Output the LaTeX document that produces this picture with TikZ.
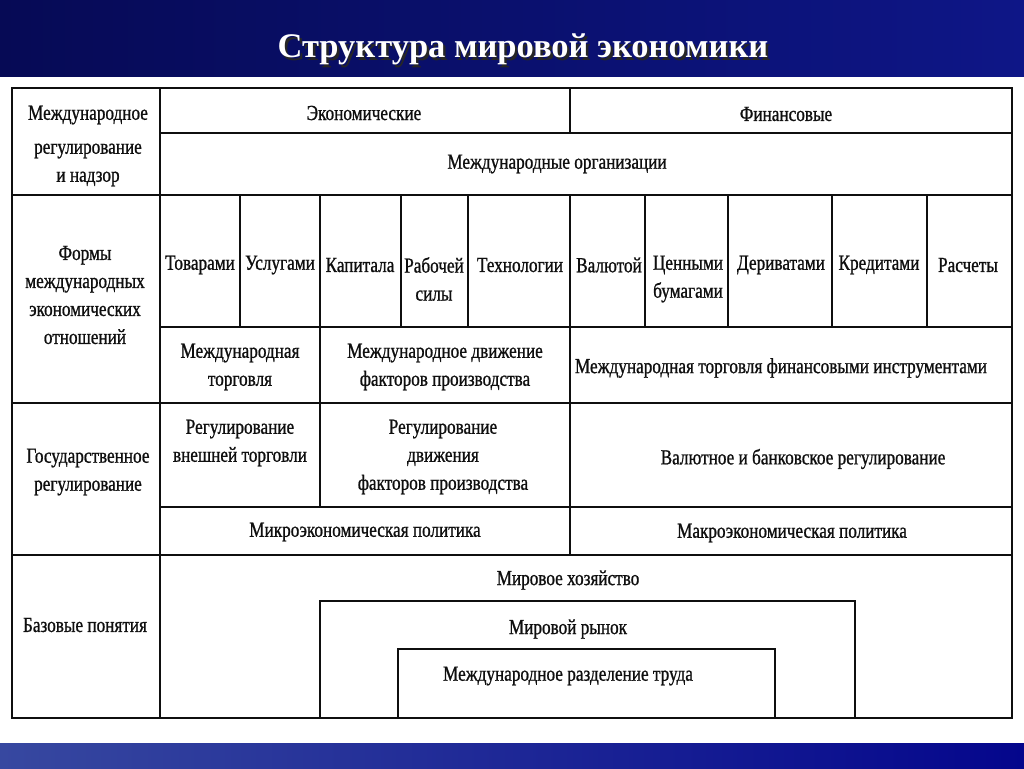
\documentclass[tikz,border=0pt]{standalone}
\usepackage{fontspec}
\setmainfont{Liberation Serif}
\newfontfamily\tblfont[FakeStretch=0.8,FakeBold=0.9]{Liberation Serif}
\definecolor{navyA}{RGB}{6,10,85}
\definecolor{navyB}{RGB}{14,22,135}
\definecolor{navyC}{RGB}{55,72,160}
\definecolor{navyD}{RGB}{4,6,140}
\definecolor{ink}{RGB}{15,15,15}
\newcommand{\shadowtext}[1]{\makebox[0pt][l]{\raisebox{-2.5pt}{\hspace{2.5pt}\textcolor{black!85}{#1}}}\textcolor{white}{#1}}
\tikzset{
  cell/.style={font=\tblfont\fontsize{21.5}{28}\selectfont, text=ink, align=center, inner sep=0pt},
  grid/.style={draw=ink, line width=1.4pt},
  thin/.style={draw=ink, line width=1.1pt},
}
\begin{document}
\begin{tikzpicture}[x=1pt,y=-1pt]
\useasboundingbox (0,0) rectangle (1024,768);
\fill[white] (0,0) rectangle (1024,768);
\shade[left color=navyA, right color=navyB] (0,0) rectangle (1024,76);
\shade[left color=navyC, right color=navyD] (0,743) rectangle (1024,768);
% title
\node[font=\bfseries\fontsize{34.5}{40}\selectfont, inner sep=0pt] (title) at (523,51) {\shadowtext{Структура мировой экономики}};
% outer frame
\draw[grid] (12,88) rectangle (1012,718);
% row separators full width
\draw[grid] (12,195) -- (1012,195);
\draw[grid] (12,403) -- (1012,403);
\draw[grid] (12,555) -- (1012,555);
% left column
\draw[grid] (160,88) -- (160,718);
% row 1
\draw[grid] (160,133) -- (1012,133);
\draw[thin] (570,88) -- (570,133);
% forms row
\draw[grid] (160,327) -- (1012,327);
\foreach \xx in {240,401,468,645,728,832,927} \draw[thin] (\xx,195) -- (\xx,327);
\draw[thin] (320,195) -- (320,403);
\draw[thin] (570,195) -- (570,403);
% gov row
\draw[grid] (160,507) -- (1012,507);
\draw[thin] (320,403) -- (320,507);
\draw[thin] (570,403) -- (570,555);
% nested boxes
\draw[thin] (320,718) -- (320,601) -- (855,601) -- (855,718);
\draw[thin] (398,718) -- (398,649) -- (775,649) -- (775,718);
% texts
\node[cell] (l1) at (88,146) {Международное\\[6pt]регулирование\\и надзор};
\node[cell] (econ) at (364,113) {Экономические};
\node[cell] (fin) at (786,114) {Финансовые};
\node[cell] (org) at (557,164) {Международные организации};
\node[cell] (l2) at (85,295) {Формы\\международных\\экономических\\отношений};
\node[cell] (c1) at (200,265) {Товарами};
\node[cell] (c2) at (280,265) {Услугами};
\node[cell] (c3) at (360,265) {Капитала};
\node[cell] (c4) at (434,279) {Рабочей\\силы};
\node[cell] (c5) at (520,265) {Технологии};
\node[cell] (c6) at (609,265) {Валютой};
\node[cell] (c7) at (688,279) {Ценными\\бумагами};
\node[cell] (c8) at (781,265) {Дериватами};
\node[cell] (c9) at (879,265) {Кредитами};
\node[cell] (c10) at (968,265) {Расчеты};
\node[cell] (t1) at (240,367) {Международная\\торговля};
\node[cell] (t2) at (445,367) {Международное движение\\факторов производства};
\node[cell] (t3) at (781,368) {Международная торговля финансовыми инструментами};
\node[cell] (l3) at (88,472) {Государственное\\регулирование};
\node[cell] (g1) at (240,443) {Регулирование\\внешней торговли};
\node[cell] (g2) at (443,457) {Регулирование\\движения\\факторов производства};
\node[cell] (g3) at (803,459) {Валютное и банковское регулирование};
\node[cell] (m1) at (365,532) {Микроэкономическая политика};
\node[cell] (m2) at (792,533) {Макроэкономическая политика};
\node[cell] (l4) at (85,625) {Базовые понятия};
\node[cell] (b1) at (568,580) {Мировое хозяйство};
\node[cell] (b2) at (568,629) {Мировой рынок};
\node[cell] (b3) at (568,676) {Международное разделение труда};
\end{tikzpicture}
\end{document}
